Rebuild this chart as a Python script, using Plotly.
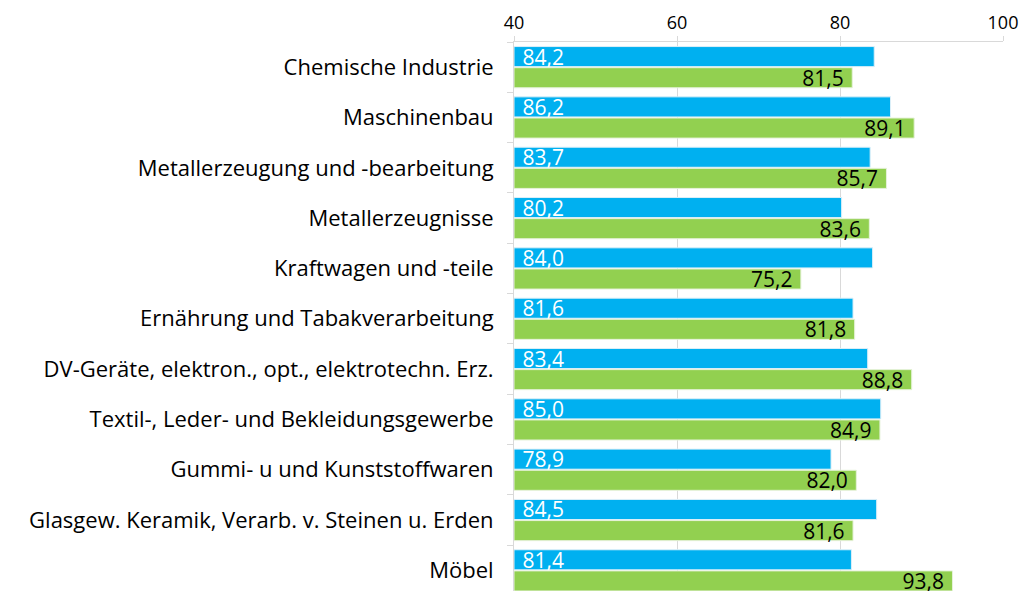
import plotly.graph_objects as go

categories = [
    "Chemische Industrie",
    "Maschinenbau",
    "Metallerzeugung und -bearbeitung",
    "Metallerzeugnisse",
    "Kraftwagen und -teile",
    "Ernährung und Tabakverarbeitung",
    "DV-Geräte, elektron., opt., elektrotechn. Erz.",
    "Textil-, Leder- und Bekleidungsgewerbe",
    "Gummi- u und Kunststoffwaren",
    "Glasgew. Keramik, Verarb. v. Steinen u. Erden",
    "Möbel",
]
blue_values = [84.2, 86.2, 83.7, 80.2, 84.0, 81.6, 83.4, 85.0, 78.9, 84.5, 81.4]
green_values = [81.5, 89.1, 85.7, 83.6, 75.2, 81.8, 88.8, 84.9, 82.0, 81.6, 93.8]
tick_values = [40, 60, 80, 100]

AXIS_MIN = 40
FONT = "Open Sans"

def fmt(v):
    return f"{v:.1f}".replace(".", ",")

fig = go.Figure()
fig.add_trace(go.Bar(
    y=categories, x=[v - AXIS_MIN for v in blue_values], base=AXIS_MIN,
    orientation="h", marker=dict(color="#00B0F0", line=dict(color="#DDEFF8", width=1)),
    text=["\u00a0" + fmt(v) for v in blue_values], textposition="inside",
    insidetextanchor="start", constraintext="none",
    textfont=dict(color="white", size=21, family=FONT),
    name="blau", showlegend=False,
))
fig.add_trace(go.Bar(
    y=categories, x=[v - AXIS_MIN for v in green_values], base=AXIS_MIN,
    orientation="h", marker=dict(color="#92D050", line=dict(color="#E6F2DA", width=1)),
    text=[fmt(v) + "\u00a0" for v in green_values], textposition="inside",
    insidetextanchor="end", constraintext="none",
    textfont=dict(color="black", size=21, family=FONT),
    name="grün", showlegend=False,
))

fig.update_layout(
    width=1022, height=591,
    margin=dict(l=514, r=19, t=42, b=0, autoexpand=False),
    barmode="group", bargap=0.16, bargroupgap=0.05,
    plot_bgcolor="white", paper_bgcolor="white",
    font=dict(family=FONT, color="black"),
)
fig.update_xaxes(
    side="top", range=[40, 100], tickvals=tick_values,
    showgrid=True, gridcolor="#D9D9D9", gridwidth=1,
    showline=True, linecolor="#D9D9D9", linewidth=1,
    ticks="outside", ticklen=5, tickcolor="#D9D9D9",
    tickfont=dict(size=18, family=FONT, color="black"), zeroline=False,
)
fig.update_yaxes(
    autorange=False, range=[10.41, -0.5], type="category",
    showgrid=False, showline=True, linecolor="#D9D9D9", linewidth=1,
    ticks="outside", ticklen=6, tickcolor="#D9D9D9", tickson="boundaries",
    ticklabelstandoff=15,
    tickfont=dict(size=22, family=FONT, color="black"),
)
fig.write_html(
    "out.html",
    config={"displayModeBar": False},
    post_script="document.body.style.margin='0';document.body.style.overflow='hidden';",
)
